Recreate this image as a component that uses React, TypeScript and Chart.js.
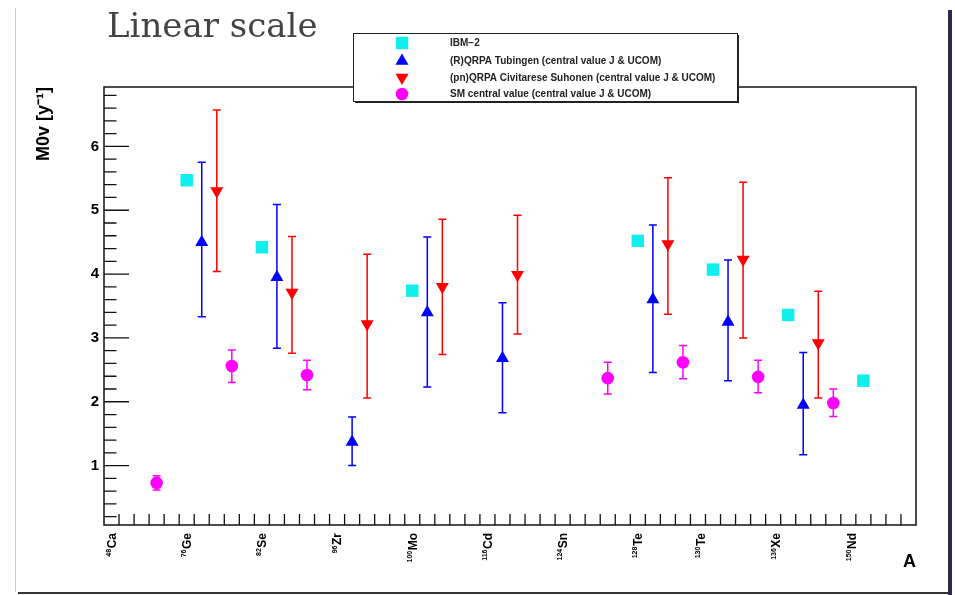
import React, { useEffect, useRef } from 'react';
import { Chart, registerables } from 'chart.js';
import { drawPoint } from 'chart.js/helpers';

Chart.register(...registerables);

// ---------- data ----------
const ISOTOPE_A = ['48', '76', '82', '96', '100', '116', '124', '128', '130', '136', '150'];
const ISOTOPE_SYM = ['Ca', 'Ge', 'Se', 'Zr', 'Mo', 'Cd', 'Sn', 'Te', 'Te', 'Xe', 'Nd'];
const GROUP_BIN = [0, 5, 10, 15, 20, 25, 30, 35, 40, 45, 50];
const LABEL_POS = [0, 5, 10, 15, 20, 25, 30, 35, 39.2, 44.2, 49.2];
const Y_TICKS = [1, 2, 3, 4, 5, 6];

const IBM2 = [null, 5.47, 4.42, null, 3.74, null, null, 4.52, 4.07, 3.36, 2.33];

const RQRPA = [null, 4.50, 3.95, 1.37, 3.40, 2.68, null, 3.60, 3.25, 1.95, null];
const RQRPA_LO = [null, 3.33, 2.84, 1.00, 2.23, 1.83, null, 2.46, 2.33, 1.17, null];
const RQRPA_HI = [null, 5.75, 5.09, 1.76, 4.58, 3.55, null, 4.77, 4.22, 2.77, null];

const PNQRPA = [null, 5.30, 3.71, 3.22, 3.80, 3.99, null, 4.47, 4.23, 2.92, null];
const PNQRPA_LO = [null, 4.04, 2.76, 2.06, 2.74, 3.06, null, 3.37, 3.00, 2.06, null];
const PNQRPA_HI = [null, 6.57, 4.59, 4.31, 4.86, 4.92, null, 5.51, 5.44, 3.73, null];

const SM = [0.73, 2.56, 2.42, null, null, null, 2.37, 2.62, 2.39, 1.98, null];
const SM_LO = [0.62, 2.30, 2.19, null, null, null, 2.12, 2.36, 2.14, 1.77, null];
const SM_HI = [0.84, 2.81, 2.65, null, null, null, 2.62, 2.88, 2.65, 2.20, null];

const LEGEND_LABELS = [
  'IBM−2',
  '(R)QRPA Tubingen (central value J & UCOM)',
  '(pn)QRPA Civitarese Suhonen (central value J & UCOM)',
  'SM central value (central value J & UCOM)',
];

const FONT = "'Liberation Sans', Arial, Helvetica, sans-serif";

function buildPoints(vals: (number | null)[], offset: number, lo?: (number | null)[], hi?: (number | null)[]) {
  const out: any[] = [];
  vals.forEach((v, i) => {
    if (v == null) return;
    out.push({ x: GROUP_BIN[i] + offset, y: v, lo: lo ? lo[i] : null, hi: hi ? hi[i] : null });
  });
  return out;
}

const rootPlugin = {
  id: 'rootStyle',
  beforeDatasetsDraw(chart: any) {
    const ctx = chart.ctx;
    const ys = chart.scales.y;
    chart.data.datasets.forEach((ds: any, di: number) => {
      const meta = chart.getDatasetMeta(di);
      ctx.save();
      ctx.strokeStyle = ds.backgroundColor;
      ctx.lineWidth = 1.5;
      meta.data.forEach((el: any, j: number) => {
        const d = ds.data[j];
        if (d.lo == null || d.hi == null) return;
        const x = el.x;
        const y1 = ys.getPixelForValue(d.lo);
        const y2 = ys.getPixelForValue(d.hi);
        ctx.beginPath();
        ctx.moveTo(x, y1);
        ctx.lineTo(x, y2);
        ctx.moveTo(x - 4, y1);
        ctx.lineTo(x + 4, y1);
        ctx.moveTo(x - 4, y2);
        ctx.lineTo(x + 4, y2);
        ctx.stroke();
      });
      ctx.restore();
    });
  },
  afterDraw(chart: any) {
    const ctx = chart.ctx;
    const { left, right, top, bottom } = chart.chartArea;
    const xs = chart.scales.x;
    const ys = chart.scales.y;
    ctx.save();
    // frame
    ctx.strokeStyle = '#111';
    ctx.lineWidth = 1.5;
    ctx.strokeRect(left, top, right - left, bottom - top);
    // x ticks (bin edges, inward)
    ctx.lineWidth = 1.3;
    ctx.beginPath();
    for (let v = Math.ceil(xs.min) + 0.5; v < xs.max; v += 1) {
      const px = xs.getPixelForValue(v);
      ctx.moveTo(px, bottom);
      ctx.lineTo(px, bottom - 11);
    }
    // y ticks (major + minor, inward)
    for (let k = 1; k * 0.2 < ys.max; k++) {
      const v = k * 0.2;
      if (v < ys.min) continue;
      const py = ys.getPixelForValue(v);
      const len = k % 5 === 0 ? 25 : 12.5;
      ctx.moveTo(left, py);
      ctx.lineTo(left + len, py);
    }
    ctx.stroke();

    // x category labels (rotated, with mass-number superscript)
    ctx.fillStyle = '#000';
    ctx.textBaseline = 'alphabetic';
    ctx.textAlign = 'right';
    LABEL_POS.forEach((pos, i) => {
      const px = xs.getPixelForValue(pos);
      ctx.save();
      ctx.translate(px, bottom + 8);
      ctx.rotate(-Math.PI / 2);
      ctx.font = `bold 12px ${FONT}`;
      ctx.fillText(ISOTOPE_SYM[i], 0, 4.3);
      const w = ctx.measureText(ISOTOPE_SYM[i]).width;
      ctx.font = `bold 7px ${FONT}`;
      ctx.fillText(ISOTOPE_A[i], -w - 0.5, -0.5);
      ctx.restore();
    });

    // legend box
    const bx = 353, by = 33, bw = 384, bh = 68;
    ctx.fillStyle = '#fff';
    ctx.fillRect(bx, by, bw, bh);
    ctx.fillStyle = '#222';
    ctx.fillRect(bx + 2, by + bh, bw, 2);
    ctx.fillRect(bx + bw, by + 2, 2, bh);
    ctx.strokeStyle = '#222';
    ctx.lineWidth = 1;
    ctx.strokeRect(bx + 0.5, by + 0.5, bw, bh);
    const rows = [43, 61, 77.5, 94];
    ctx.font = `bold 10px ${FONT}`;
    ctx.textBaseline = 'middle';
    ctx.textAlign = 'left';
    chart.data.datasets.forEach((ds: any, i: number) => {
      const y = rows[i];
      ctx.fillStyle = ds.backgroundColor;
      drawPoint(ctx, {
        pointStyle: ds.pointStyle,
        radius: ds.pointRadius,
        rotation: ds.rotation || 0,
        borderWidth: 0,
      } as any, 402, y);
      ctx.fillStyle = '#222';
      ctx.fillText(LEGEND_LABELS[i], 450, y + 0.5);
    });
    ctx.restore();
  },
};

export default function App() {
  const ref = useRef<HTMLCanvasElement>(null);

  useEffect(() => {
    if (!ref.current) return;
    Chart.defaults.font.family = FONT;
    Chart.defaults.color = '#000';
    const chart = new Chart(ref.current, {
      type: 'scatter',
      data: {
        datasets: [
          {
            label: LEGEND_LABELS[0],
            data: buildPoints(IBM2, 0),
            backgroundColor: '#11eeee',
            pointStyle: 'rect',
            pointRadius: 8.8,
            borderWidth: 0,
          } as any,
          {
            label: LEGEND_LABELS[1],
            data: buildPoints(RQRPA, 1, RQRPA_LO, RQRPA_HI),
            backgroundColor: '#0000ff',
            pointStyle: 'triangle',
            pointRadius: 7.5,
            borderWidth: 0,
          },
          {
            label: LEGEND_LABELS[2],
            data: buildPoints(PNQRPA, 2, PNQRPA_LO, PNQRPA_HI),
            backgroundColor: '#ff0000',
            pointStyle: 'triangle',
            rotation: 180,
            pointRadius: 7.5,
            borderWidth: 0,
          },
          {
            label: LEGEND_LABELS[3],
            data: buildPoints(SM, 3, SM_LO, SM_HI),
            backgroundColor: '#ff00ff',
            pointStyle: 'circle',
            pointRadius: 6.3,
            borderWidth: 0,
          },
        ],
      },
      options: {
        animation: false,
        responsive: false,
        events: [],
        layout: { padding: { top: 87, right: 39, left: 0, bottom: 0 } },
        plugins: { legend: { display: false }, tooltip: { enabled: false } },
        scales: {
          x: {
            type: 'linear',
            min: -0.5,
            max: 53.5,
            grid: { display: false, drawTicks: false },
            border: { display: false },
            afterBuildTicks: (scale: any) => {
              scale.ticks = LABEL_POS.map((v) => ({ value: v }));
            },
            afterFit: (scale: any) => {
              scale.height = 70;
            },
            ticks: { display: false },
            title: {
              display: true,
              text: 'A',
              align: 'end',
              color: '#000',
              font: { size: 18, weight: 'bold' },
              padding: { top: 0, bottom: 22 },
            },
          },
          y: {
            type: 'linear',
            min: 0.07,
            max: 6.93,
            grid: { display: false, drawTicks: false },
            border: { display: false },
            afterBuildTicks: (scale: any) => {
              scale.ticks = Y_TICKS.map((v) => ({ value: v }));
            },
            afterFit: (scale: any) => {
              scale.width = 104;
            },
            ticks: {
              padding: 5,
              font: { size: 15, weight: 'bold' },
              color: '#000',
              callback: (v: any) => String(v),
            },
            title: {
              display: true,
              text: 'M0v [y⁻¹]',
              align: 'end',
              color: '#000',
              font: { size: 18, weight: 'bold' },
              padding: { top: 33, bottom: 0 },
            },
          },
        },
      },
      plugins: [rootPlugin],
    });
    return () => chart.destroy();
  }, []);

  return (
    <div style={{ position: 'absolute', left: 0, top: 0, width: 955, height: 595, background: '#fff', overflow: 'hidden' }}>
      <canvas ref={ref} width={955} height={595} style={{ position: 'absolute', left: 0, top: 0, display: 'block' }} />
      <div
        style={{
          position: 'absolute',
          left: 107,
          top: 5,
          fontFamily: "'DejaVu Serif', 'Liberation Serif', serif",
          fontSize: 34,
          lineHeight: '40px',
          color: '#444',
          whiteSpace: 'nowrap',
        }}
      >
        Linear scale
      </div>
      <div style={{ position: 'absolute', left: 15, top: 8, width: 1, height: 584, background: '#c4c4e6' }} />
      <div style={{ position: 'absolute', left: 18, top: 592, width: 931, height: 2, background: '#333' }} />
      <div style={{ position: 'absolute', left: 948, top: 10, width: 4, height: 585, background: '#2a2a4c' }} />
    </div>
  );
}
